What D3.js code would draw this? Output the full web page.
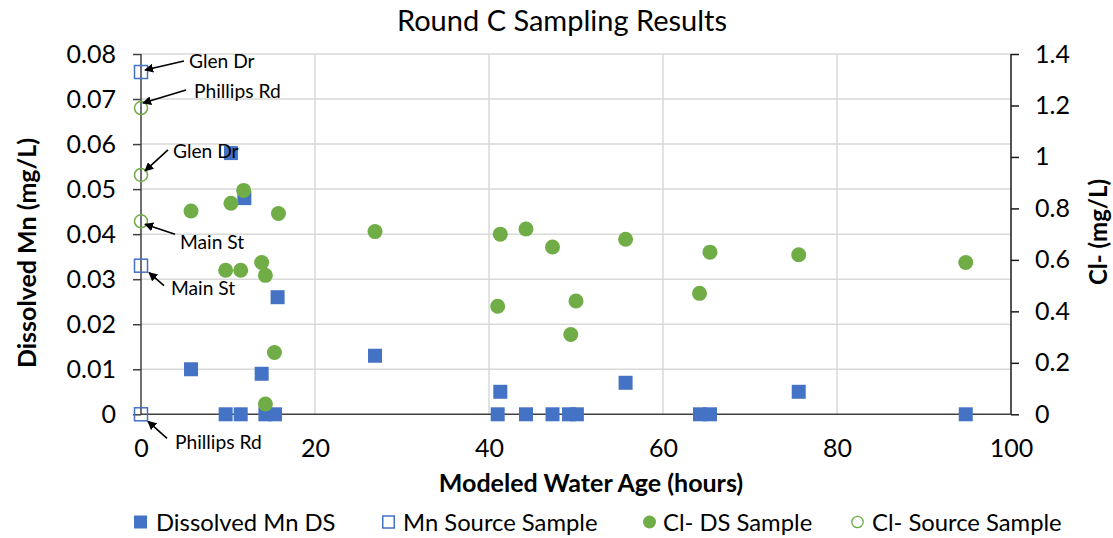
<!DOCTYPE html>
<html><head><meta charset="utf-8">
<script src="https://cdn.jsdelivr.net/npm/d3@7"></script>
<style>
html,body{margin:0;padding:0;background:#fff;}
svg{display:block;font-family:Lato, "Open Sans", sans-serif;}
</style></head>
<body><svg id="c" width="1113" height="538"></svg>
<script>
// ---- data ----
const mnDsHours  = [5.75, 9.73, 10.34, 11.46, 11.88, 13.87, 14.3, 15.4, 15.7, 26.9, 41.0, 41.3, 44.25, 47.3, 49.2, 50.1, 55.7, 64.25, 65.4, 75.6, 94.8];
const mnDsValues = [0.010, 0, 0.058, 0, 0.048, 0.009, 0, 0, 0.026, 0.013, 0, 0.005, 0, 0, 0, 0, 0.007, 0, 0, 0.005, 0];
const mnSrcHours  = [0, 0, 0];
const mnSrcValues = [0.076, 0.033, 0];
const clDsHours  = [5.75, 9.73, 10.34, 11.46, 11.8, 13.87, 14.3, 14.3, 15.34, 15.8, 26.9, 41.0, 41.3, 44.25, 47.3, 49.4, 50.0, 55.7, 64.2, 65.4, 75.6, 94.8];
const clDsValues = [0.79, 0.56, 0.82, 0.56, 0.87, 0.59, 0.54, 0.04, 0.24, 0.78, 0.71, 0.42, 0.70, 0.72, 0.65, 0.31, 0.44, 0.68, 0.47, 0.63, 0.62, 0.59];
const clSrcHours  = [0, 0, 0];
const clSrcValues = [1.19, 0.93, 0.75];
const xTicks = [0, 20, 40, 60, 80, 100];
const xTickLabels = ["0", "20", "40", "60", "80", "100"];
const mnTicks = [0, 0.01, 0.02, 0.03, 0.04, 0.05, 0.06, 0.07, 0.08];
const mnTickLabels = ["0", "0.01", "0.02", "0.03", "0.04", "0.05", "0.06", "0.07", "0.08"];
const clTicks = [0, 0.2, 0.4, 0.6, 0.8, 1.0, 1.2, 1.4];
const clTickLabels = ["0", "0.2", "0.4", "0.6", "0.8", "1", "1.2", "1.4"];
const seriesNames = ["Dissolved Mn DS", "Mn Source Sample", "Cl- DS Sample", "Cl- Source Sample"];
const annotLabels = ["Glen Dr", "Phillips Rd", "Glen Dr", "Main St", "Main St", "Phillips Rd"];
const annotSeries = ["mn", "cl", "cl", "cl", "mn", "mn"];
const annotIndex  = [0, 0, 1, 2, 1, 2];

// ---- layout ----
const BLUE = "#4472C4", GREEN = "#70AD47", GRID = "#D9D9D9", AXIS = "#404040";
const svg = d3.select("#c");
const x = d3.scaleLinear().domain([0, 100]).range([141, 1011]);
const yL = d3.scaleLinear().domain([0, 0.08]).range([414.3, 54]);
const yR = d3.scaleLinear().domain([0, 1.4]).range([414.3, 54]);

// gridlines
svg.append("g").selectAll("line").data(mnTicks.filter(d => d > 0)).join("line")
  .attr("x1", x(0)).attr("x2", x(100)).attr("y1", d => yL(d)).attr("y2", d => yL(d))
  .attr("stroke", GRID).attr("stroke-width", 1.5);
svg.append("g").selectAll("line").data(xTicks.filter(d => d > 0 && d < 100)).join("line")
  .attr("x1", d => x(d)).attr("x2", d => x(d)).attr("y1", yL(0)).attr("y2", yL(0.08))
  .attr("stroke", GRID).attr("stroke-width", 1.5);

// axes
const gL = svg.append("g").attr("transform", `translate(${x(0)},0)`)
  .call(d3.axisLeft(yL).tickValues(mnTicks).tickFormat((d, i) => mnTickLabels[i]).tickSize(8).tickPadding(17));
const gR = svg.append("g").attr("transform", `translate(${x(100)},0)`)
  .call(d3.axisRight(yR).tickValues(clTicks).tickFormat((d, i) => clTickLabels[i]).tickSize(8).tickPadding(16));
const gB = svg.append("g").attr("transform", `translate(0,${yL(0)})`)
  .call(d3.axisBottom(x).tickValues(xTicks).tickFormat((d, i) => xTickLabels[i]).tickSize(0).tickPadding(25));
[gL, gR, gB].forEach(g => {
  g.selectAll("path.domain").attr("stroke", AXIS).attr("stroke-width", 1.5);
  g.selectAll(".tick line").attr("stroke", AXIS).attr("stroke-width", 1.5);
  g.selectAll(".tick text").attr("fill", "#000").style("font-size", "25px").style("font-family", "Lato, sans-serif");
});
gL.select("path.domain").attr("d", `M-0,${yL(0.08)}V${yL(0)}`);
gR.select("path.domain").attr("d", `M0,${yR(1.4)}V${yR(0)}`).attr("stroke", "#1a1a1a");
gR.selectAll(".tick line").attr("stroke", "#1a1a1a");
gB.select("path.domain").attr("d", `M${x(0)},0H${x(100)}`);

// titles
svg.append("text").attr("x", 562).attr("y", 19).attr("text-anchor", "middle").attr("dominant-baseline", "central")
  .style("font-size", "29px").text("Round C Sampling Results");
svg.append("text").attr("x", 591).attr("y", 482).attr("text-anchor", "middle").attr("dominant-baseline", "central")
  .style("font-size", "25px").style("font-weight", "bold").text("Modeled Water Age (hours)");
svg.append("text").attr("transform", "translate(26,253) rotate(-90)").attr("text-anchor", "middle").attr("dominant-baseline", "central")
  .style("font-size", "25px").style("font-weight", "bold").text("Dissolved Mn (mg/L)");
svg.append("text").attr("transform", "translate(1097,232) rotate(-90)").attr("text-anchor", "middle").attr("dominant-baseline", "central")
  .style("font-size", "24px").style("font-weight", "bold").text("Cl- (mg/L)");

// markers
const SQ = 14, R = 7.5;
const mnDs = mnDsHours.map((h, i) => ({h, v: mnDsValues[i]}));
const mnSrc = mnSrcHours.map((h, i) => ({h, v: mnSrcValues[i]}));
const clDs = clDsHours.map((h, i) => ({h, v: clDsValues[i]}));
const clSrc = clSrcHours.map((h, i) => ({h, v: clSrcValues[i]}));
svg.append("g").selectAll("rect").data(mnDs).join("rect")
  .attr("x", d => x(d.h) - SQ / 2).attr("y", d => yL(d.v) - SQ / 2).attr("width", SQ).attr("height", SQ).attr("fill", BLUE);
svg.append("g").selectAll("rect").data(mnSrc).join("rect")
  .attr("x", d => x(d.h) - 6.5).attr("y", d => yL(d.v) - 6.5).attr("width", 13).attr("height", 13)
  .attr("fill", "none").attr("stroke", BLUE).attr("stroke-width", 1.5);
svg.append("g").selectAll("circle").data(clDs).join("circle")
  .attr("cx", d => x(d.h)).attr("cy", d => yR(d.v)).attr("r", R).attr("fill", GREEN);
svg.append("g").selectAll("circle").data(clSrc).join("circle")
  .attr("cx", d => x(d.h)).attr("cy", d => yR(d.v)).attr("r", 6.5)
  .attr("fill", "none").attr("stroke", GREEN).attr("stroke-width", 1.5);

// annotations: [tipDx, tipDy, tailDx, tailDy, textDx, textDy] relative to the point
const annotOffsets = [
  [4, -2, 43, -11, 48, -12],
  [2, -5, 45, -18, 53, -18],
  [4, -4, 27, -25, 32, -24],
  [4, 3, 34, 13, 39, 20],
  [8, 7, 23, 20, 30, 22],
  [7, 7, 26, 24, 34, 27]
];
svg.append("defs").append("marker").attr("id", "ah").attr("viewBox", "0 0 10 10")
  .attr("refX", 9).attr("refY", 5).attr("markerWidth", 9).attr("markerHeight", 9)
  .attr("markerUnits", "userSpaceOnUse").attr("orient", "auto")
  .append("path").attr("d", "M0,0L10,5L0,10Z").attr("fill", "#000");
const ag = svg.append("g");
annotLabels.forEach((lab, i) => {
  const px = x(annotSeries[i] === "mn" ? mnSrcHours[annotIndex[i]] : clSrcHours[annotIndex[i]]);
  const py = annotSeries[i] === "mn" ? yL(mnSrcValues[annotIndex[i]]) : yR(clSrcValues[annotIndex[i]]);
  const o = annotOffsets[i];
  ag.append("line").attr("x1", px + o[2]).attr("y1", py + o[3]).attr("x2", px + o[0]).attr("y2", py + o[1])
    .attr("stroke", "#000").attr("stroke-width", 1.6).attr("marker-end", "url(#ah)");
  ag.append("text").attr("x", px + o[4]).attr("y", py + o[5]).attr("dominant-baseline", "central")
    .style("font-size", "19.2px").text(lab);
});

// legend
const lg = svg.append("g").attr("transform", "translate(0,522)");
const legX = [134, 382, 643, 851];
const legTextX = [156, 403, 663, 872];
seriesNames.forEach((name, i) => {
  const gx = legX[i];
  if (i === 0) lg.append("rect").attr("x", gx).attr("y", -6.5).attr("width", 13).attr("height", 13).attr("fill", BLUE);
  if (i === 1) lg.append("rect").attr("x", gx + 0.75).attr("y", -6).attr("width", 11.5).attr("height", 12).attr("fill", "none").attr("stroke", BLUE).attr("stroke-width", 1.5);
  if (i === 2) lg.append("circle").attr("cx", gx + 6.5).attr("cy", 0).attr("r", 6.5).attr("fill", GREEN);
  if (i === 3) lg.append("circle").attr("cx", gx + 6.5).attr("cy", 0).attr("r", 5.7).attr("fill", "none").attr("stroke", GREEN).attr("stroke-width", 1.3);
  lg.append("text").attr("x", legTextX[i]).attr("y", 0).attr("dominant-baseline", "central")
    .style("font-size", "23.8px").text(name);
});
</script></body></html>
